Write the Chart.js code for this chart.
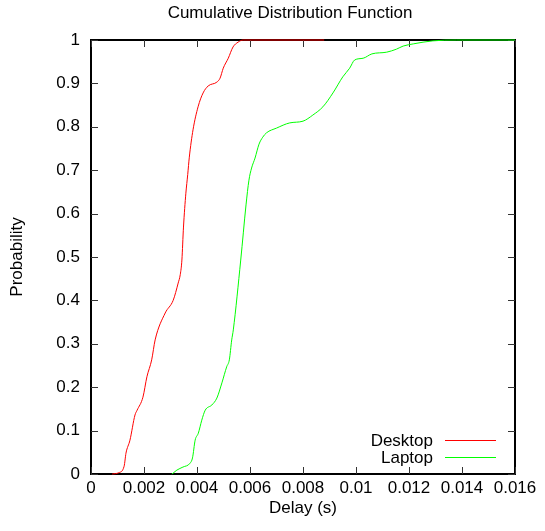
<!DOCTYPE html>
<html>
<head>
<meta charset="utf-8">
<script src="https://cdn.jsdelivr.net/npm/chart.js@4"></script>
<style>
html, body { margin: 0; padding: 0; background: #fff; }
</style>
</head>
<body>
<canvas id="chart" width="545" height="531"></canvas>
<script>
const chartTitle = 'Cumulative Distribution Function';
const seriesNames = ['Desktop', 'Laptop'];
const seriesColors = ['#ff0000', '#00ff00'];

const desktopX = [0.0008, 0.00105, 0.00125, 0.00132, 0.00147, 0.00166, 0.00174, 0.00196, 0.00211, 0.00229, 0.00242, 0.0028,
    0.0031, 0.00329, 0.00337, 0.00343, 0.00349, 0.00358, 0.00365, 0.00371, 0.00385, 0.00404, 0.00423, 0.00442, 0.00475,
    0.00487, 0.00499, 0.00518, 0.00536, 0.00555, 0.00574, 0.0088];
const desktopY = [0, 0.003, 0.018, 0.048, 0.078, 0.136, 0.147, 0.177, 0.224, 0.263, 0.309, 0.371,
    0.4, 0.44, 0.46, 0.493, 0.569, 0.647, 0.69, 0.73, 0.793, 0.846, 0.878, 0.894, 0.903,
    0.912, 0.935, 0.958, 0.984, 0.995, 1, 1];

const laptopX = [0.00305, 0.0031, 0.00324, 0.00347, 0.00374, 0.00383, 0.00393, 0.00405, 0.00418, 0.00431, 0.00456, 0.00475,
    0.00494, 0.00512, 0.00522, 0.00531, 0.00537, 0.00565, 0.00585, 0.00596, 0.00606, 0.00619, 0.00634, 0.00648, 0.00662,
    0.007, 0.0075, 0.008, 0.00837, 0.00875, 0.00913, 0.0095, 0.00976, 0.00995, 0.01027, 0.0106, 0.01116, 0.01153,
    0.01178, 0.01216, 0.0129, 0.0138, 0.016];
const laptopY = [0, 0.002, 0.009, 0.016, 0.025, 0.037, 0.078, 0.094, 0.124, 0.147, 0.159, 0.175,
    0.21, 0.247, 0.263, 0.309, 0.332, 0.493, 0.62, 0.677, 0.705, 0.728, 0.76, 0.776, 0.786,
    0.797, 0.809, 0.813, 0.827, 0.846, 0.878, 0.915, 0.935, 0.954, 0.958, 0.968, 0.972, 0.979,
    0.986, 0.991, 0.998, 1, 1];

const xTicks = [0, 0.002, 0.004, 0.006, 0.008, 0.01, 0.012, 0.014, 0.016];
const yTicks = [0, 0.1, 0.2, 0.3, 0.4, 0.5, 0.6, 0.7, 0.8, 0.9, 1];

const FONT = '"Liberation Sans", Arial, sans-serif';
Chart.defaults.font.family = FONT;
Chart.defaults.font.size = 17;
Chart.defaults.color = '#000';

function toPoints(xs, ys) {
    return xs.map((x, i) => ({ x: x, y: ys[i] }));
}

// gnuplot-like frame: box, inward ticks on all four sides, title and legend
const framePlugin = {
    id: 'frame',
    beforeDatasetsDraw(chart) {
        const { ctx, chartArea: a, scales } = chart;
        ctx.save();
        ctx.strokeStyle = '#000';
        ctx.lineWidth = 2;
        ctx.strokeRect(a.left, a.top, a.right - a.left, a.bottom - a.top);
        ctx.lineWidth = 1;
        ctx.strokeStyle = '#333';
        const len = 7;
        ctx.beginPath();
        xTicks.forEach(v => {
            const px = Math.round(scales.x.getPixelForValue(v)) + 0.5;
            ctx.moveTo(px, a.bottom); ctx.lineTo(px, a.bottom - len);
            ctx.moveTo(px, a.top); ctx.lineTo(px, a.top + len);
        });
        yTicks.forEach(v => {
            const py = Math.round(scales.y.getPixelForValue(v)) + 0.5;
            ctx.moveTo(a.left, py); ctx.lineTo(a.left + len, py);
            ctx.moveTo(a.right, py); ctx.lineTo(a.right - len, py);
        });
        ctx.stroke();
        ctx.restore();
    },
    afterDatasetsDraw(chart) {
        const { ctx } = chart;
        ctx.save();
        ctx.font = '17px ' + FONT;
        ctx.fillStyle = '#000';
        ctx.textBaseline = 'alphabetic';
        ctx.textAlign = 'center';
        ctx.fillText(chartTitle, 290, 18);
        chart.data.datasets.forEach((ds, i) => {
            const y = 446 + i * 17;
            ctx.textAlign = 'right';
            ctx.fillStyle = '#000';
            ctx.fillText(ds.label, 433, y);
            ctx.strokeStyle = ds.borderColor;
            ctx.lineWidth = 1;
            ctx.beginPath();
            ctx.moveTo(445, y - 5.5);
            ctx.lineTo(496, y - 5.5);
            ctx.stroke();
        });
        ctx.restore();
    }
};

const ctx = document.getElementById('chart').getContext('2d');
const myChart = new Chart(ctx, {
    type: 'scatter',
    data: {
        datasets: [{
            label: seriesNames[0],
            data: toPoints(desktopX, desktopY),
            borderColor: seriesColors[0],
            backgroundColor: seriesColors[0],
            showLine: true,
            borderWidth: 1,
            pointRadius: 0,
            cubicInterpolationMode: 'monotone',
            clip: false
        }, {
            label: seriesNames[1],
            data: toPoints(laptopX, laptopY),
            borderColor: seriesColors[1],
            backgroundColor: seriesColors[1],
            showLine: true,
            borderWidth: 1,
            pointRadius: 0,
            cubicInterpolationMode: 'monotone',
            clip: false
        }]
    },
    options: {
        responsive: false,
        devicePixelRatio: 1,
        animation: false,
        layout: { padding: { left: 0, right: 30, top: 40, bottom: 0 } },
        plugins: {
            legend: { display: false },
            title: { display: false },
            tooltip: { enabled: false }
        },
        scales: {
            x: {
                type: 'linear',
                min: 0,
                max: 0.016,
                afterFit: s => { s.height = 57; },
                afterBuildTicks: s => { s.ticks = xTicks.map(v => ({ value: v })); },
                grid: { display: false, drawTicks: false },
                border: { display: false },
                ticks: {
                    padding: 4,
                    maxRotation: 0,
                    autoSkip: false,
                    callback: v => String(+v.toFixed(3))
                },
                title: { display: true, text: 'Delay (s)', padding: { top: 0, bottom: 12 } }
            },
            y: {
                type: 'linear',
                min: 0,
                max: 1,
                afterFit: s => { s.width = 91; },
                afterBuildTicks: s => { s.ticks = yTicks.map(v => ({ value: v })); },
                grid: { display: false, drawTicks: false },
                border: { display: false },
                ticks: {
                    padding: 11,
                    autoSkip: false,
                    callback: v => String(+v.toFixed(1))
                },
                title: { display: true, text: 'Probability', padding: { top: 7, bottom: 0 } }
            }
        }
    },
    plugins: [framePlugin]
});
</script>
</body>
</html>
